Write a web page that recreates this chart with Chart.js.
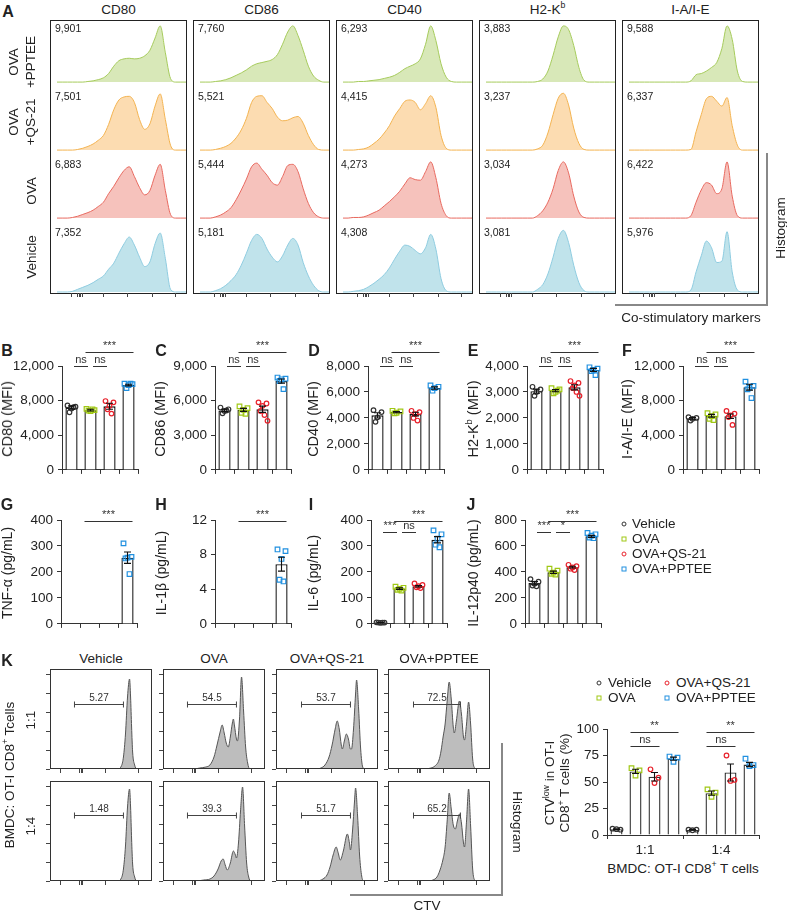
<!DOCTYPE html>
<html>
<head>
<meta charset="utf-8">
<script src="https://cdn.jsdelivr.net/npm/chart.js"></script>
<style>
  body { margin: 0; background: #fff; }
  #fig { position: relative; width: 787px; height: 913px; overflow: hidden; font-family: "Liberation Sans", Arial, sans-serif; color: #222; background: #fff; }
  #fig canvas { position: absolute; }
  .t { position: absolute; white-space: nowrap; transform: translate(-50%, -50%); font-size: 13.5px; line-height: 1.1; text-align: center; }
  .box { position: absolute; border: 1px solid #222; box-sizing: border-box; }
  .ln { position: absolute; background: #888; }
  .mk { position: absolute; width: 3px; height: 3px; border: 1.3px solid; transform: translate(-50%, -50%); }
  sup { font-size: 0.65em; line-height: 0; vertical-align: 0.6em; }
</style>
</head>
<body>
<div id="fig"></div>
<script>
// ---- data ----
const groups = ['Vehicle', 'OVA', 'OVA+QS-21', 'OVA+PPTEE'];
const groupColor = ['#333333', '#a0c814', '#e8212b', '#2090e0'];
const groupShape = ['circle', 'rect', 'circle', 'rect'];

// panel A: rows are OVA+PPTEE, OVA+QS-21, OVA, Vehicle
const markerNames = ['CD80', 'CD86', 'CD40', 'H2-K<sup>b</sup>', 'I-A/I-E'];
const rowNames = ['OVA<br>+PPTEE', 'OVA<br>+QS-21', 'OVA', 'Vehicle'];
const mfiLabels = [
  ['9,901', '7,501', '6,883', '7,352'],
  ['7,760', '5,521', '5,444', '5,181'],
  ['6,293', '4,415', '4,273', '4,308'],
  ['3,883', '3,237', '3,034', '3,081'],
  ['9,588', '6,337', '6,422', '5,976']
];
const histX = [0,4,8,12,16,20,24,28,32,36,40,44,48,52,56,60,64,68,72,76,80,84,88,92,96,100];
const cd80Hist = [
  [0,0,0,0,0,0,1,2,4,7,14,26,35,38,39,38,39,43,52,72,92,48,6,0,0,0],
  [0,0,0,0,1,3,6,10,16,24,42,66,82,87,88,78,50,34,43,72,92,50,8,0,0,0],
  [0,0,0,1,3,6,9,13,19,26,40,52,66,78,84,68,50,38,45,70,88,45,6,0,0,0],
  [0,0,0,1,4,7,10,14,19,24,34,43,58,72,82,70,52,38,45,72,88,50,4,0,0,0]
];
const cd86Hist = [
  [0,0,0,1,2,4,7,11,15,20,26,30,32,34,37,45,62,82,92,76,52,26,10,3,0,0],
  [0,0,0,1,3,6,11,20,33,52,78,88,89,78,68,54,48,49,53,55,44,24,9,1,0,0],
  [0,0,0,2,5,10,17,30,46,64,84,90,80,70,58,54,68,86,88,76,48,24,9,2,0,0],
  [0,0,0,2,5,10,17,26,40,58,77,86,80,64,52,45,54,70,80,70,44,24,10,2,0,0]
];
const cd40Hist = [
  [0,0,0,1,1,2,3,4,6,8,11,16,22,26,30,38,62,92,68,30,8,1,0,0,0,0],
  [0,0,0,1,2,5,11,18,28,40,56,68,80,82,78,66,76,89,70,24,3,0,0,0,0,0],
  [0,0,1,1,2,5,9,13,20,27,35,44,56,66,63,62,76,92,66,24,4,0,0,0,0,0],
  [0,0,1,2,4,8,13,19,26,36,49,61,70,68,62,57,66,86,64,20,2,0,0,0,0,0]
];
const h2kbHist = [
  [0,0,0,0,0,0,0,0,0,0,1,5,18,44,74,92,86,60,24,3,0,0,0,0,0,0],
  [0,0,0,0,0,0,0,0,0,0,2,8,28,58,85,93,74,36,11,1,0,0,0,0,0,0],
  [0,0,0,0,0,0,0,0,0,0,4,12,26,48,78,92,74,36,10,1,0,0,0,0,0,0],
  [0,0,0,0,0,0,0,0,0,0,4,11,27,52,80,92,74,40,14,2,0,0,0,0,0,0]
];
const iaieHist = [
  [0,0,0,0,0,0,0,0,0,0,0,0,2,12,14,18,24,32,55,92,70,18,1,0,0,0],
  [0,0,0,0,0,0,0,0,0,0,0,0,1,30,58,84,88,80,72,86,40,8,0,0,0,0],
  [0,0,0,0,0,0,0,0,0,0,0,0,4,26,46,58,54,40,48,92,36,4,0,0,0,0],
  [0,0,0,0,0,0,0,0,0,0,0,0,3,30,54,76,66,44,46,90,30,3,0,0,0,0]
];
const histTicksA = [11, 16, 17.3, 18.6, 20, 36, 55, 74, 92];

// panels B-F (MFI)
const cd80Mean = [7200, 6900, 7350, 9800], cd80Sem = [200, 100, 350, 100];
const cd80Pts = [[7450,7300,7100,6650,7250],[7050,6900,6800,6850,7000],[7950,7800,7400,7000,6500],[9950,9900,9800,9450,9950]];
const cd86Mean = [5150, 5200, 5250, 7700], cd86Sem = [100, 130, 270, 180];
const cd86Pts = [[5400,5250,5100,4900,5150],[5500,5350,5200,4950,4850],[5850,5750,5550,5100,4750,4250],[8000,7900,7850,7700,7000]];
const cd40Mean = [4200, 4450, 4300, 6300], cd40Sem = [200, 50, 140, 90];
const cd40Pts = [[4600,4450,4050,3700],[4550,4500,4400,4350],[4550,4450,4300,4000,3800],[6500,6400,6300,6100]];
const h2kbMean = [3030, 3050, 3180, 3850], h2kbSem = [80, 40, 100, 60];
const h2kbPts = [[3200,3100,3000,2850],[3150,3100,3000,2950,3050],[3420,3350,3250,3150,3000,2850],[3950,3900,3850,3800,3650]];
const iaieMean = [5950, 6250, 6200, 9550], iaieSem = [100, 160, 260, 340];
const iaiePts = [[6100,6000,5900,5700],[6550,6400,6200,5900,5750],[6800,6500,6300,6100,5200],[10200,9700,9500,9300,8300]];
const mfiSig = [[0,1,'ns',0],[1,2,'ns',0],[1,3,'***',1]];

// panels G-J (cytokines)
const tnfMean = [0, 0, 0, 255], tnfSem = [0, 0, 0, 22];
const tnfPts = [[], [], [], [310,258,255,252,192]];
const il1Mean = [0, 0, 0, 6.9], il1Sem = [0, 0, 0, 0.8];
const il1Pts = [[], [], [], [8.6,8.4,7.5,5.1,4.9]];
const il6Mean = [5, 136, 145, 324], il6Sem = [0.5, 3, 3, 12];
const il6Pts = [[6,5,4,5,5],[143,139,135,131,128],[156,150,145,141,138],[360,345,328,305,295]];
const il12Mean = [314, 397, 437, 674], il12Sem = [12, 9, 7, 8];
const il12Pts = [[345,325,310,295,290],[425,410,395,385,380],[455,445,435,425,415],[700,690,680,665,660]];
const tnfSig = [[1,3,'***',1]], il1Sig = [[1,3,'***',1]];
const il6Sig = [[0,1,'***',0],[1,2,'ns',0],[1,3,'***',1]];
const il12Sig = [[0,1,'***',0],[1,2,'*',0],[1,3,'***',1]];

// panel K histograms [x, y] per group (Vehicle, OVA, OVA+QS-21, OVA+PPTEE)
const kHist11 = [
  [[0,0],[66,0],[70,3],[72,12],[74,35],[76,72],[78,90],[79,72],[80,42],[81,17],[83,4],[85,0],[100,0]],
  [[0,0],[30,0],[36,1],[42,2],[46,4],[50,12],[53,24],[56,37],[58,44],[60,36],[62,26],[64,22],[66,32],[68,46],[69,50],[70,44],[72,30],[73,28],[75,50],[77,92],[79,58],[81,22],[83,6],[85,0],[100,0]],
  [[0,0],[38,0],[44,1],[48,4],[52,12],[55,24],[58,40],[60,48],[62,40],[64,24],[65,20],[67,28],[69,35],[71,30],[73,20],[74,20],[76,40],[78,75],[79,89],[81,60],[83,20],[85,2],[87,0],[100,0]],
  [[0,0],[36,0],[42,1],[46,3],[50,9],[52,18],[54,32],[56,45],[58,68],[60,87],[62,70],[64,42],[65,36],[67,48],[70,68],[72,55],[74,32],[75,29],[77,45],[79,67],[81,45],[83,10],[85,1],[87,0],[100,0]]
];
const kHist14 = [
  [[0,0],[66,0],[70,3],[72,12],[74,35],[76,74],[78,92],[79,74],[80,42],[81,17],[83,4],[85,0],[100,0]],
  [[0,0],[32,0],[40,1],[46,2],[50,5],[54,12],[57,20],[59,22],[61,16],[63,11],[66,18],[69,30],[71,26],[72,23],[74,38],[76,70],[78,94],[80,55],[82,18],[84,4],[86,0],[100,0]],
  [[0,0],[40,0],[46,2],[50,6],[53,14],[56,26],[59,34],[61,28],[63,21],[66,30],[70,47],[72,38],[73,31],[75,50],[77,80],[78,93],[80,65],[82,25],[84,5],[86,0],[100,0]],
  [[0,0],[38,0],[44,1],[48,4],[51,11],[54,22],[56,34],[58,60],[60,88],[62,72],[64,56],[66,52],[68,60],[70,67],[72,58],[74,38],[75,34],[77,60],[79,92],[81,55],[83,12],[85,1],[87,0],[100,0]]
];
const kGateText = [['5.27', '54.5', '53.7', '72.5'], ['1.48', '39.3', '51.7', '65.2']];
const kGateRange = [[24, 72], [24, 72], [25, 73], [25, 71]];
const kGateLevel = [65, 66];
const histTicksKx = [10.5, 29, 30.5, 32, 54, 87];
const histTicksKy = [0, 19, 38, 57, 76, 95];

// panel K bar chart
const kCats = ['1:1', '1:4'];
const kMean = [[5.5, 5], [60, 39.5], [55, 59], [72, 66.5]];
const kSem = [[0.4, 0.3], [2, 2], [4, 8], [1.5, 2]];
const kPts = [[[6,5,5.5],[5,5,4.5]], [[63,61,56],[43,40,36]], [[62,54,49],[75,52,51]], [[74,73,69],[72,66,65]]];
const kSig = [[0,1,3,'**',1],[0,1,2,'ns',0],[1,1,3,'**',1],[1,1,2,'ns',0]];

// ---- helpers ----
const FONT = '"Liberation Sans", Arial, sans-serif';
Chart.defaults.font.family = FONT;
Chart.defaults.color = '#222';
Chart.defaults.animation = false;
Chart.defaults.responsive = false;
Chart.defaults.events = [];
Chart.defaults.plugins.legend.display = false;
Chart.defaults.plugins.tooltip.enabled = false;

const fig = document.getElementById('fig');
const jitter = [-4, 4, 0, -2, 2, 5, -5];

function label(html, x, y, o = {}) {
  const d = document.createElement('div');
  d.className = 't';
  d.innerHTML = html;
  d.style.left = x + 'px';
  d.style.top = y + 'px';
  if (o.size) d.style.fontSize = o.size + 'px';
  if (o.bold) d.style.fontWeight = 'bold';
  if (o.lh) d.style.lineHeight = o.lh + 'px';
  let tf = o.anchor === 'lm' ? 'translate(0,-50%)' : 'translate(-50%,-50%)';
  if (o.rot) tf += ` rotate(${o.rot}deg)`;
  d.style.transform = tf;
  fig.appendChild(d);
  return d;
}
function rect(cls, x, y, w, h) {
  const d = document.createElement('div');
  d.className = cls;
  Object.assign(d.style, {left: x + 'px', top: y + 'px', width: w + 'px', height: h + 'px'});
  fig.appendChild(d);
  return d;
}
function canvasAt(x, y, w, h) {
  const c = document.createElement('canvas');
  c.width = w; c.height = h;
  Object.assign(c.style, {left: x + 'px', top: y + 'px', width: w + 'px', height: h + 'px'});
  fig.appendChild(c);
  return c;
}
function legendMark(x, y, s) {
  const d = rect('mk', x, y, 3, 3);
  d.style.borderColor = groupColor[s];
  if (groupShape[s] === 'circle') d.style.borderRadius = '50%';
}
function mark(ctx, s, px, py) {
  ctx.strokeStyle = groupColor[s];
  ctx.lineWidth = 1.2;
  ctx.beginPath();
  if (groupShape[s] === 'circle') ctx.arc(px, py, 2.3, 0, Math.PI * 2);
  else ctx.rect(px - 2.3, py - 2.3, 4.6, 4.6);
  ctx.stroke();
}

// points, error bars and significance lines on the bar charts
const barDeco = {
  id: 'barDeco',
  afterDatasetsDraw(chart, args, o) {
    const {ctx, chartArea: a, scales: {y}} = chart;
    const cx = (d, g) => chart.getDatasetMeta(d).data[g].x;
    ctx.save();
    o.items.forEach(it => {
      const c = cx(it.d, it.g);
      it.pts.forEach((v, k) => mark(ctx, it.s, c + jitter[k % jitter.length], y.getPixelForValue(v)));
      if (it.sem > 0) {
        const yt = y.getPixelForValue(it.mean + it.sem), yb = y.getPixelForValue(it.mean - it.sem);
        ctx.strokeStyle = '#111'; ctx.lineWidth = 1.1;
        ctx.beginPath();
        ctx.moveTo(c, yt); ctx.lineTo(c, yb);
        ctx.moveTo(c - 3.5, yt); ctx.lineTo(c + 3.5, yt);
        ctx.moveTo(c - 3.5, yb); ctx.lineTo(c + 3.5, yb);
        ctx.stroke();
      }
    });
    ctx.font = '11px ' + FONT;
    ctx.textAlign = 'center';
    ctx.textBaseline = 'bottom';
    o.comps.forEach(cp => {
      const xa = cx(cp.a[0], cp.a[1]), xb = cx(cp.b[0], cp.b[1]);
      const x1 = cp.inset ? xa + 2.5 : xa - 5, x2 = cp.inset ? xb - 2.5 : xb + 5;
      const ly = Math.round(a.top + o.tiers[cp.tier]) + 0.5;
      ctx.strokeStyle = '#333'; ctx.lineWidth = 1;
      ctx.beginPath(); ctx.moveTo(x1, ly); ctx.lineTo(x2, ly); ctx.stroke();
      ctx.fillStyle = '#333';
      ctx.fillText(cp.text, (x1 + x2) / 2, ly - 1.5);
    });
    ctx.restore();
  }
};

// box and gate on the CTV histograms
const kHistDeco = {
  id: 'kHistDeco',
  afterDraw(chart, args, o) {
    const {ctx, chartArea: a, scales: {x, y}} = chart;
    ctx.save();
    ctx.strokeStyle = '#333'; ctx.lineWidth = 1;
    ctx.strokeRect(a.left + 0.5, a.top + 0.5, a.right - a.left - 1, a.bottom - a.top - 1);
    const x1 = x.getPixelForValue(o.from), x2 = x.getPixelForValue(o.to);
    const gy = Math.round(y.getPixelForValue(o.level)) + 0.5;
    ctx.strokeStyle = '#444';
    ctx.beginPath();
    ctx.moveTo(x1, gy); ctx.lineTo(x2, gy);
    ctx.moveTo(x1, gy - 3); ctx.lineTo(x1, gy + 3);
    ctx.moveTo(x2, gy - 3); ctx.lineTo(x2, gy + 3);
    ctx.stroke();
    ctx.fillStyle = '#333';
    ctx.font = '10px ' + FONT;
    ctx.textAlign = 'center';
    ctx.textBaseline = 'bottom';
    ctx.fillText(o.text, (x1 + x2) / 2, gy - 1);
    ctx.restore();
  }
};

function histScale(min, ticks, isX) {
  return {
    type: 'linear', min, max: 100,
    display: !!ticks,
    ticks: {display: false},
    grid: {drawOnChartArea: false, drawTicks: true, tickLength: 4, color: '#444'},
    border: {display: false},
    afterBuildTicks: s => { if (ticks) s.ticks = ticks.map(v => ({value: v})); },
    afterFit: s => { if (isX) s.height = 6; else s.width = 6; }
  };
}
function histChart(c, data, st) {
  return new Chart(c, {
    type: 'line',
    data: {datasets: [{data, borderColor: st.line, backgroundColor: st.fill, borderWidth: 1, fill: 'origin', pointRadius: 0, cubicInterpolationMode: 'monotone'}]},
    options: {
      layout: {padding: 0},
      scales: {x: histScale(0, st.xTicks, true), y: histScale(st.yMin, st.yTicks, false)},
      plugins: st.deco ? {kHistDeco: st.deco} : {}
    },
    plugins: st.deco ? [kHistDeco] : []
  });
}

function barChart(o) {
  const yw = 48, padTop = 32, padR = 6;
  const c = canvasAt(o.ax - yw, o.at - padTop, yw + o.aw + padR, padTop + (o.ab - o.at) + o.xh);
  return new Chart(c, {
    type: 'bar',
    data: {labels: o.labels, datasets: o.datasets},
    options: {
      layout: {padding: {top: padTop, right: padR, left: 0, bottom: 0}},
      scales: {
        x: {grid: {offset: true, drawOnChartArea: false, tickLength: 4, color: '#333'}, border: {color: '#333'},
            ticks: {display: !!o.xLabels, font: {size: 13.5}, color: '#222', padding: 3}, afterFit: s => { s.height = o.xh; }},
        y: {min: 0, max: o.max, ticks: {stepSize: o.step, font: {size: 13.5}, color: '#222', padding: 4, callback: v => v.toLocaleString('en-US')},
            grid: {drawOnChartArea: false, tickLength: 4, color: '#333'}, border: {color: '#333'}, afterFit: s => { s.width = yw; }}
      },
      plugins: {barDeco: {items: o.items, comps: o.comps, tiers: o.tiers}}
    },
    plugins: [barDeco]
  });
}
function groupPanel(p, at, ab, tiers) {
  barChart({
    ax: p.ax, at, ab, aw: 76, xh: 10, max: p.max, step: p.step, labels: groups,
    datasets: [{data: p.mean, backgroundColor: '#fff', borderColor: '#111', borderWidth: 1.4, barPercentage: 0.64, categoryPercentage: 1}],
    items: p.mean.map((m, g) => ({d: 0, g, s: g, pts: p.pts[g], mean: m, sem: p.sem[g]})),
    comps: p.sig.map(([i, j, text, tier]) => ({a: [0, i], b: [0, j], text, tier, inset: j - i === 1})),
    tiers
  });
  label(p.letter, p.lx, at - 15, {size: 16, bold: true});
  label(p.title, p.tx, (at + ab) / 2, {size: p.ts, rot: -90});
}

// ---- panel A ----
const aCols = [cd80Hist, cd86Hist, cd40Hist, h2kbHist, iaieHist];
const aBoxX = [50, 193, 336, 479, 622];
const rowFill = ['#d8e8b8', '#fcdcb1', '#f6c2bc', '#c0e3eb'];
const rowLine = ['#a6cb5c', '#f3b350', '#e8695f', '#8ecce0'];
label('A', 8, 12, {size: 16, bold: true});
aCols.forEach((col, ci) => {
  const bx = aBoxX[ci];
  rect('box', bx, 20, 137, 274);
  label(markerNames[ci], bx + 68.5, 10);
  col.forEach((vals, r) => {
    const last = r === 3;
    const c = canvasAt(bx + 1, 21 + r * 68, 135, last ? 74 : 68);
    histChart(c, histX.map((x, i) => ({x, y: vals[i]})), {fill: rowFill[r], line: rowLine[r], xTicks: last ? histTicksA : null, yTicks: null, yMin: -1.5});
    label(mfiLabels[ci][r], bx + 5, 29 + r * 68, {size: 10.5, anchor: 'lm'});
  });
});
[[22, 62], [22, 122], [31, 191], [31, 257]].forEach(([x, y], r) => label(rowNames[r], x, y, {rot: -90, lh: 17}));
rect('ln', 766, 153, 2, 153);
rect('ln', 615, 304, 153, 2);
label('Histogram', 781, 228, {rot: -90});
label('Co-stimulatory markers', 691, 318);

// ---- panels B-F ----
const bfTiers = [0, -14];
[
  {ax: 62, mean: cd80Mean, sem: cd80Sem, pts: cd80Pts, sig: mfiSig, max: 12000, step: 4000, letter: 'B', lx: 7, title: 'CD80 (MFI)', tx: 8, ts: 14.5},
  {ax: 215, mean: cd86Mean, sem: cd86Sem, pts: cd86Pts, sig: mfiSig, max: 9000, step: 3000, letter: 'C', lx: 161, title: 'CD86 (MFI)', tx: 161, ts: 14.5},
  {ax: 368, mean: cd40Mean, sem: cd40Sem, pts: cd40Pts, sig: mfiSig, max: 8000, step: 2000, letter: 'D', lx: 314, title: 'CD40 (MFI)', tx: 314, ts: 14.5},
  {ax: 527, mean: h2kbMean, sem: h2kbSem, pts: h2kbPts, sig: mfiSig, max: 4000, step: 1000, letter: 'E', lx: 473, title: 'H2-K<sup>b</sup> (MFI)', tx: 474, ts: 14.5},
  {ax: 683, mean: iaieMean, sem: iaieSem, pts: iaiePts, sig: mfiSig, max: 12000, step: 4000, letter: 'F', lx: 627, title: 'I-A/I-E (MFI)', tx: 628, ts: 14.5}
].forEach(p => groupPanel(p, 366, 472, bfTiers));

// ---- panels G-J ----
const gjTiers = [12, 1];
[
  {ax: 61, mean: tnfMean, sem: tnfSem, pts: tnfPts, sig: tnfSig, max: 400, step: 100, letter: 'G', lx: 7, title: 'TNF-α (pg/mL)', tx: 8, ts: 14},
  {ax: 215, mean: il1Mean, sem: il1Sem, pts: il1Pts, sig: il1Sig, max: 12, step: 4, letter: 'H', lx: 161, title: 'IL-1β (pg/mL)', tx: 162, ts: 14},
  {ax: 371, mean: il6Mean, sem: il6Sem, pts: il6Pts, sig: il6Sig, max: 400, step: 100, letter: 'I', lx: 311, title: 'IL-6 (pg/mL)', tx: 314, ts: 14},
  {ax: 525, mean: il12Mean, sem: il12Sem, pts: il12Pts, sig: il12Sig, max: 800, step: 200, letter: 'J', lx: 471, title: 'IL-12p40 (pg/mL)', tx: 474, ts: 14}
].forEach(p => groupPanel(p, 520, 626, gjTiers));
groups.forEach((g, s) => {
  legendMark(624, 524 + s * 15, s);
  label(g, 632, 524 + s * 15, {anchor: 'lm', size: 13.5});
});

// ---- panel K histograms ----
const kBoxX = [50, 163, 276, 388];
const kBoxY = [669, 781];
label('K', 7, 661, {size: 16, bold: true});
groups.forEach((g, ci) => label(g, kBoxX[ci] + 51, 659));
[kHist11, kHist14].forEach((row, ri) => {
  row.forEach((pts, ci) => {
    const c = canvasAt(kBoxX[ci] - 6, kBoxY[ri], 108, 106);
    histChart(c, pts.map(([x, y]) => ({x, y})), {
      fill: '#bdbdbd', line: '#555', xTicks: histTicksKx, yTicks: histTicksKy, yMin: 0,
      deco: {from: kGateRange[ci][0], to: kGateRange[ci][1], level: kGateLevel[ri], text: kGateText[ri][ci]}
    });
  });
});
label('1:1', 31, 720, {rot: -90});
label('1:4', 31, 826, {rot: -90});
label('BMDC: OT-I CD8<sup>+</sup> Tcells', 10, 775, {rot: -90});
rect('ln', 501, 743, 2, 153);
rect('ln', 350, 894, 153, 2);
label('Histogram', 517, 822, {rot: 90});
label('CTV', 427, 906);

// ---- panel K bar chart ----
barChart({
  ax: 607, at: 729, ab: 835, aw: 152, xh: 22, max: 100, step: 25, labels: kCats, xLabels: true,
  datasets: kMean.map(m => ({data: m, backgroundColor: '#fff', borderColor: '#333', borderWidth: 1.4, barPercentage: 0.63, categoryPercentage: 1})),
  items: kMean.flatMap((m, d) => m.map((v, g) => ({d, g, s: d, pts: kPts[d][g], mean: v, sem: kSem[d][g]}))),
  comps: kSig.map(([g, i, j, text, tier]) => ({a: [i, g], b: [j, g], text, tier, inset: false})),
  tiers: [17, 3]
});
label('CTV<sup>low</sup> in OT-I<br>CD8<sup>+</sup> T cells (%)', 557, 783, {rot: -90, lh: 15});
label('BMDC: OT-I CD8<sup>+</sup> T cells', 683, 869);
[[599, 683, 0], [599, 698, 1], [667, 683, 2], [667, 698, 3]].forEach(([x, y, s]) => {
  legendMark(x, y, s);
  label(groups[s], x + 9, y, {anchor: 'lm'});
});
</script>
</body>
</html>
